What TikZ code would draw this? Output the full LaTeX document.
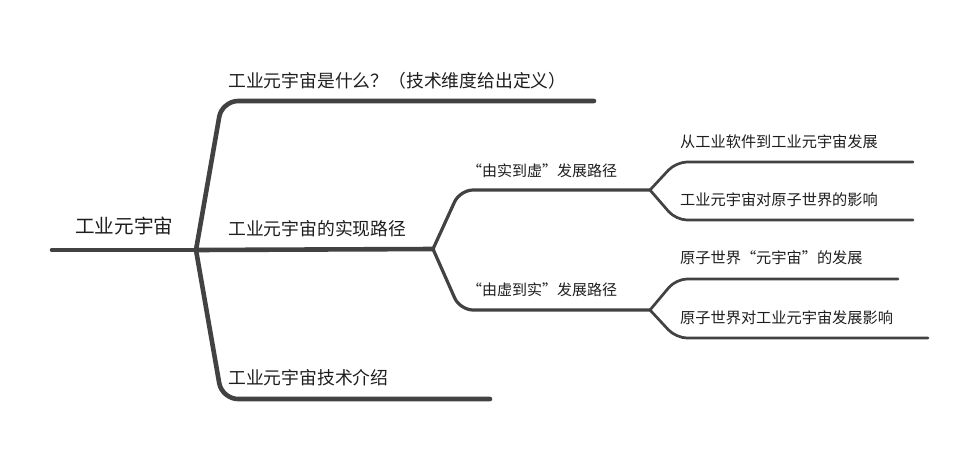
\documentclass[tikz,border=0pt]{standalone}
\usepackage{fontspec}
\setmainfont{Noto Sans CJK SC}
\begin{document}
\begin{tikzpicture}[x=1pt,y=-1pt,
  trunk/.style={draw=linegray,line width=4.6pt,line cap=round,rounded corners=16pt},
  twig/.style={draw=linegray,line width=3.2pt,line cap=round,rounded corners=13pt},
  leafline/.style={draw=linegray,line width=2.7pt,line cap=round,rounded corners=11pt},
  rootlabel/.style={anchor=west,inner sep=0pt,text=textgray,font=\fontsize{19.6pt}{22pt}\selectfont},
  mainlabel/.style={anchor=west,inner sep=0pt,text=textgray,font=\fontsize{17.8pt}{20pt}\selectfont},
  sublabel/.style={anchor=west,inner sep=0pt,text=textgray,font=\fontsize{15.0pt}{17pt}\selectfont},
  leaflabel/.style={anchor=west,inner sep=0pt,text=textgray,font=\fontsize{15.2pt}{17pt}\selectfont}]
\definecolor{linegray}{HTML}{424242}
\definecolor{textgray}{HTML}{1E1E1E}
\useasboundingbox[fill=white] (0,0) rectangle (980,451);
% junction and end points
\coordinate (r0) at (52,250);
\coordinate (j0) at (196,250);
\coordinate (c1) at (222,101); \coordinate (e1) at (594,101);
\coordinate (j1) at (433,249);
\coordinate (c3) at (222,399); \coordinate (e3) at (490,399);
\coordinate (cs1) at (460,190); \coordinate (j2) at (650,190);
\coordinate (cs2) at (460,310); \coordinate (j3) at (650,310);
\coordinate (cl1) at (676,162); \coordinate (el1) at (913,162);
\coordinate (cl2) at (676,220); \coordinate (el2) at (913,220);
\coordinate (cl3) at (676,279); \coordinate (el3) at (898,279);
\coordinate (cl4) at (676,338); \coordinate (el4) at (928,338);
% connectors
\draw[trunk] (r0) -- (j0);
\draw[trunk] (j0) -- (c1) -- (e1);
\draw[trunk] (j0) -- (j1);
\draw[trunk] (j0) -- (c3) -- (e3);
\draw[twig] (j1) -- (cs1) -- (j2);
\draw[twig] (j1) -- (cs2) -- (j3);
\draw[leafline] (j2) -- (cl1) -- (el1);
\draw[leafline] (j2) -- (cl2) -- (el2);
\draw[leafline] (j3) -- (cl3) -- (el3);
\draw[leafline] (j3) -- (cl4) -- (el4);
% labels
\node[rootlabel] (root) at (75,226) {工业元宇宙};
\node[mainlabel] (m1) at (228,81) {工业元宇宙是什么？（技术维度给出定义）};
\node[mainlabel] (m2) at (228,229) {工业元宇宙的实现路径};
\node[mainlabel] (m3) at (228,377.5) {工业元宇宙技术介绍};
\node[sublabel] (s1) at (467,171) {“由实到虚”发展路径};
\node[sublabel] (s2) at (467,290) {“由虚到实”发展路径};
\node[leaflabel] (t1) at (680,142) {从工业软件到工业元宇宙发展};
\node[leaflabel] (t2) at (680,200) {工业元宇宙对原子世界的影响};
\node[leaflabel] (t3) at (680,258) {原子世界“元宇宙”的发展};
\node[leaflabel] (t4) at (680,318) {原子世界对工业元宇宙发展影响};
\end{tikzpicture}
\end{document}
